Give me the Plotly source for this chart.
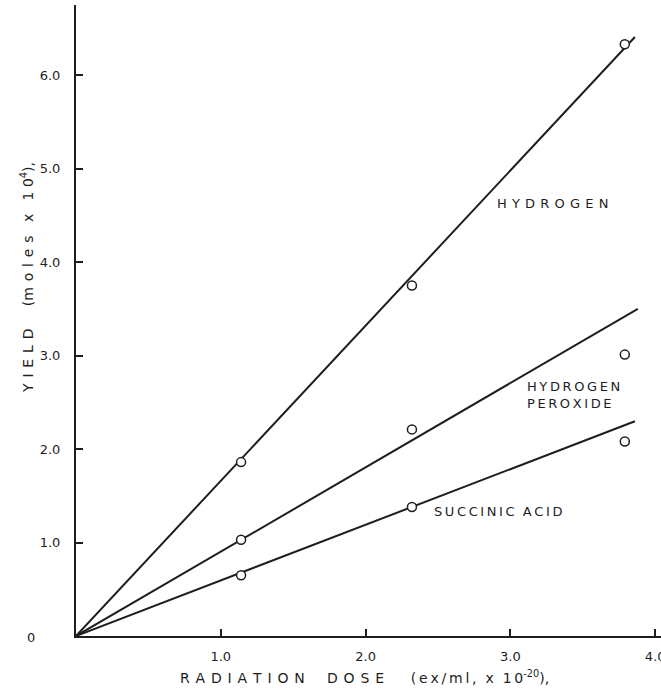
import plotly.graph_objects as go

# Measured yields at three radiation doses
dose = [1.14, 2.32, 3.79]
hydrogen = [1.86, 3.75, 6.33]
hydrogen_peroxide = [1.03, 2.21, 3.01]
succinic_acid = [0.65, 1.38, 2.08]

# Straight lines through the origin fitted to each product
fit_slope = [1.66, 0.902, 0.595]
fit_end_dose = [3.86, 3.88, 3.86]

x_tick_vals = [1, 2, 3, 4]
x_tick_text = ["1.0", "2.0", "3.0", "4.0"]
y_tick_vals = [1, 2, 3, 4, 5, 6]
y_tick_text = ["1.0", "2.0", "3.0", "4.0", "5.0", "6.0"]

INK = "#1e1e1e"
FONT = "DejaVu Sans"
THIN = "\u2009"
HAIR = "\u200a"
NBSP = "\u00a0"


def spaced(text, sep=THIN):
    """Open up lettering the way stencil captions are drawn."""
    return sep.join(text)


def gap(n):
    return NBSP * n


W, H = 661, 692
L, R, T, B = 76, 0, 5, 56
PW, PH = W - L - R, H - T - B


def px(x):
    return (x - L) / PW


def py(y):
    return (H - B - y) / PH


fig = go.Figure()

series = [hydrogen, hydrogen_peroxide, succinic_acid]
for values, slope, x_end in zip(series, fit_slope, fit_end_dose):
    fig.add_trace(go.Scatter(
        x=[0, x_end], y=[0, slope * x_end], mode="lines",
        line=dict(color=INK, width=2), hoverinfo="skip", showlegend=False))
for values in series:
    fig.add_trace(go.Scatter(
        x=dose, y=values, mode="markers",
        marker=dict(symbol="circle", size=9, color="white",
                    line=dict(color=INK, width=1.5)),
        showlegend=False))

axis_common = dict(
    showline=True, linecolor=INK, linewidth=2, showgrid=False, zeroline=False,
    ticks="inside", ticklen=7, tickwidth=1.5, tickcolor=INK,
    tickfont=dict(family=FONT, size=13, color=INK),
    ticklabeloverflow="allow", automargin=False,
)

fig.update_layout(
    width=W, height=H,
    margin=dict(l=L, r=R, t=T, b=B),
    paper_bgcolor="white", plot_bgcolor="white",
    xaxis=dict(range=[0, 4.04], tickvals=x_tick_vals, ticktext=x_tick_text,
               ticklabelstandoff=7, **axis_common),
    yaxis=dict(range=[0, 6.75], tickvals=y_tick_vals, ticktext=y_tick_text,
               ticklabelstandoff=11, **axis_common),
    font=dict(family=FONT, color=INK),
)

label_font = dict(family=FONT, size=13, color=INK)
title_font = dict(family=FONT, size=14, color=INK)

# Curve captions inside the plot
fig.add_annotation(x=3.29, y=4.63, text=spaced("HYDROGEN", THIN * 2),
                   showarrow=False, font=label_font, xanchor="center")
fig.add_annotation(x=3.10, y=2.58,
                   text=spaced("HYDROGEN") + "<br>" + spaced("PEROXIDE"),
                   showarrow=False, font=label_font, xanchor="left",
                   align="left")
fig.add_annotation(x=2.46, y=1.33,
                   text=spaced("SUCCINIC") + gap(2) + spaced("ACID"),
                   showarrow=False, font=label_font, xanchor="left")

# Origin label and axis titles
fig.add_annotation(x=px(31), y=py(637), xref="paper", yref="paper",
                   xanchor="center", yanchor="middle",
                   text="0", showarrow=False, font=label_font)
fig.add_annotation(
    x=px(27), y=py(278), xref="paper", yref="paper", textangle=-90,
    xanchor="center", yanchor="middle",
    text=spaced("YIELD", NBSP + HAIR) + gap(5) + "(" +
    spaced("moles", NBSP + HAIR) + gap(3) + "x" + gap(3) +
    spaced("10", NBSP) + "<sup>4</sup>),",
    showarrow=False, font=title_font)
fig.add_annotation(
    x=px(364), y=py(677), xref="paper", yref="paper",
    xanchor="center", yanchor="middle",
    text=spaced("RADIATION", NBSP + HAIR) + gap(5) +
    spaced("DOSE", NBSP + HAIR) + gap(6) +
    spaced("(ex/ml,", THIN) + gap(2) + "x" + gap(2) + spaced("10", THIN) +
    "<sup>-20</sup>),",
    showarrow=False, font=title_font)

fig.write_html("out.html")
